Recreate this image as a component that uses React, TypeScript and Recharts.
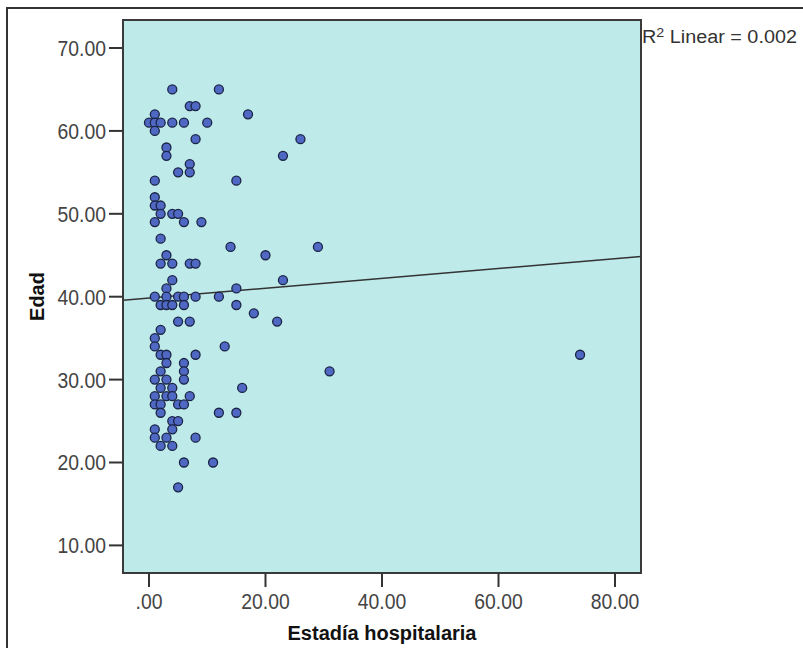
import React from 'react';
import { ScatterChart, Scatter, XAxis, YAxis, ReferenceArea, ReferenceLine } from 'recharts';

// Estadía hospitalaria (x) and Edad (y), one entry per patient
const estadia: number[] = [
  4, 12,
  7, 8,
  1, 17,
  0, 1, 2, 4, 6, 10,
  1,
  8, 26,
  3,
  3, 23,
  7,
  5, 7,
  1, 15,
  1,
  1, 2,
  2, 4, 5,
  1, 6, 9,
  2,
  14, 29,
  3, 20,
  2, 4, 7, 8,
  4, 23,
  3, 15,
  1, 3, 5, 6, 8, 12,
  2, 3, 4, 6, 15,
  18,
  5, 7, 22,
  2,
  1,
  1, 13,
  2, 3, 8, 74,
  3, 6,
  2, 6, 31,
  1, 3, 6,
  2, 4, 16,
  1, 3, 4, 7,
  1, 2, 5, 6,
  2, 12, 15,
  4, 5,
  1, 4,
  1, 3, 8,
  2, 4,
  6, 11,
  5,
];
const edad: number[] = [
  65, 65,
  63, 63,
  62, 62,
  61, 61, 61, 61, 61, 61,
  60,
  59, 59,
  58,
  57, 57,
  56,
  55, 55,
  54, 54,
  52,
  51, 51,
  50, 50, 50,
  49, 49, 49,
  47,
  46, 46,
  45, 45,
  44, 44, 44, 44,
  42, 42,
  41, 41,
  40, 40, 40, 40, 40, 40,
  39, 39, 39, 39, 39,
  38,
  37, 37, 37,
  36,
  35,
  34, 34,
  33, 33, 33, 33,
  32, 32,
  31, 31, 31,
  30, 30, 30,
  29, 29, 29,
  28, 28, 28, 28,
  27, 27, 27, 27,
  26, 26, 26,
  25, 25,
  24, 24,
  23, 23, 23,
  22, 22,
  20, 20,
  17,
];

const xTicks: number[] = [0, 20, 40, 60, 80];
const xTickLabels: string[] = ['.00', '20.00', '40.00', '60.00', '80.00'];
const yTicks: number[] = [10, 20, 30, 40, 50, 60, 70];
const yTickLabels: string[] = ['10.00', '20.00', '30.00', '40.00', '50.00', '60.00', '70.00'];

const xDomain: [number, number] = [-4.46, 84.46];
const yDomain: [number, number] = [6.67, 73.38];

// fit line endpoints (at the plot edges)
const fitStart = { x: -4.46, y: 39.57 };
const fitEnd = { x: 84.46, y: 44.85 };

const data = estadia.map((x, i) => ({ x, y: edad[i] }));

const FONT = '"Liberation Sans", Arial, sans-serif';

const XTick = (props: any) => {
  const { x, y, payload } = props;
  const idx = xTicks.indexOf(payload.value);
  return (
    <g transform={`translate(${x},${y + 20})`}>
      <text transform="scale(0.88,1)" textAnchor="middle" fontFamily={FONT} fontSize={22} fill="#444">
        {xTickLabels[idx]}
      </text>
    </g>
  );
};

const YTick = (props: any) => {
  const { x, y, payload } = props;
  const idx = yTicks.indexOf(payload.value);
  return (
    <g transform={`translate(${x - 1},${y + 8})`}>
      <text transform="scale(0.88,1)" textAnchor="end" fontFamily={FONT} fontSize={22} fill="#444">
        {yTickLabels[idx]}
      </text>
    </g>
  );
};

const Dot = (props: any) => {
  const { cx, cy } = props;
  return <circle cx={cx} cy={cy} r={4.5} fill="#4E68C4" stroke="#1B2445" strokeWidth={1.3} />;
};

export default function App() {
  return (
    <div style={{ position: 'absolute', left: 0, top: 0, width: 803, height: 648, background: '#fff', overflow: 'hidden' }}>
      <div style={{ position: 'absolute', left: 0, top: 0 }}>
        <ScatterChart width={803} height={648} margin={{ top: 20, right: 162, bottom: 15, left: 63 }}>
          <XAxis
            type="number"
            dataKey="x"
            domain={xDomain}
            ticks={xTicks}
            allowDataOverflow
            tickSize={14}
            height={60}
            axisLine={false}
            tickLine={{ stroke: '#333', strokeWidth: 2 }}
            tick={<XTick />}
            label={(p: any) => {
              const vb = p.viewBox;
              return (
                <text x={vb.x + vb.width / 2} y={640} textAnchor="middle" fontFamily={FONT} fontWeight="bold" fontSize={20} fill="#111">
                  Estadía hospitalaria
                </text>
              );
            }}
          />
          <YAxis
            type="number"
            dataKey="y"
            domain={yDomain}
            ticks={yTicks}
            allowDataOverflow
            tickSize={14}
            width={60}
            axisLine={false}
            tickLine={{ stroke: '#333', strokeWidth: 2 }}
            tick={<YTick />}
            label={(p: any) => {
              const vb = p.viewBox;
              const cy = vb.y + vb.height / 2;
              return (
                <text x={44} y={cy} transform={`rotate(-90, 44, ${cy})`} textAnchor="middle" fontFamily={FONT} fontWeight="bold" fontSize={20} fill="#111">
                  Edad
                </text>
              );
            }}
          />
          <ReferenceArea
            x1={xDomain[0]}
            x2={xDomain[1]}
            y1={yDomain[0]}
            y2={yDomain[1]}
            fill="#BEEAEA"
            fillOpacity={1}
            stroke="#3a3a3a"
            strokeWidth={2}
            ifOverflow="visible"
          />
          <ReferenceLine
            segment={[fitStart, fitEnd]}
            stroke="#333"
            strokeWidth={1.5}
            ifOverflow="visible"
          />
          <Scatter data={data} shape={<Dot />} isAnimationActive={false} />
        </ScatterChart>
      </div>
      <div
        style={{
          position: 'absolute',
          left: 6,
          top: 7,
          width: 820,
          height: 660,
          borderTop: '2px solid #333',
          borderLeft: '2px solid #333',
          pointerEvents: 'none',
        }}
      />
      <div
        style={{
          position: 'absolute',
          left: 642,
          top: 27,
          fontFamily: FONT,
          fontSize: 18,
          color: '#333',
          whiteSpace: 'nowrap',
          transform: 'scaleX(1.1)',
          transformOrigin: 'left top',
          lineHeight: '20px',
        }}
      >
        R<sup style={{ fontSize: 13, verticalAlign: 'top', position: 'relative', top: -4 }}>2</sup> Linear = 0.002
      </div>
    </div>
  );
}
